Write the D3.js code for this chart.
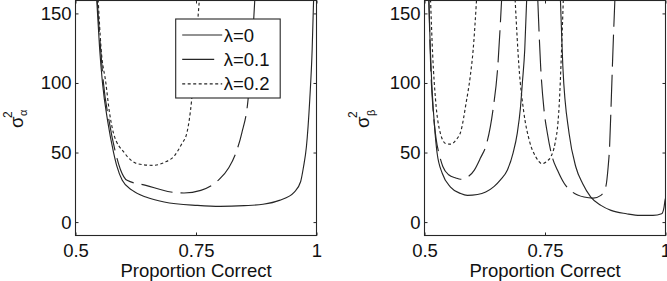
<!DOCTYPE html>
<html>
<head>
<meta charset="utf-8">
<script src="https://cdn.jsdelivr.net/npm/d3@7"></script>
<style>
  body { margin: 0; background: #fff; }
  svg { display: block; font-family: "Liberation Sans", Arial, sans-serif; }
</style>
</head>
<body>
<svg id="chart" width="667" height="281"></svg>
<script>
// tick values + legend labels
var pcTicks = [0.5, 0.75, 1];
var varTicks = [0, 50, 100, 150];
var lambdaLabels = ["λ=0", "λ=0.1", "λ=0.2"];

// left panel: sigma^2 alpha, [proportion correct, variance]
var alphaLam0 = [[0.544,160],[0.550,125],[0.556,100],[0.567,72],[0.579,50],[0.586,40],[0.597,30],
  [0.618,22.8],[0.646,18],[0.684,14.4],[0.753,12],[0.80,11.3],[0.85,11.8],[0.889,12.8],[0.923,15.6],
  [0.954,21.6],[0.967,29],[0.973,39.6],[0.979,54],[0.986,88],[0.991,124],[0.994,160]];
var alphaLam1 = [[0.545,160],[0.552,125],[0.558,100],[0.570,72],[0.583,50],[0.593,38],[0.607,30],
  [0.646,26.4],[0.698,21.6],[0.725,20.9],[0.760,22.8],[0.796,30],[0.818,39],[0.833,50],[0.845,64],
  [0.858,88],[0.866,124],[0.872,160]];
var alphaLam2 = [[0.547,160],[0.553,125],[0.563,100],[0.570,80],[0.579,63.7],[0.601,50],[0.628,42],
  [0.660,40.8],[0.685,43],[0.706,48],[0.720,56],[0.731,64],[0.741,88],[0.749,124],[0.757,160]];

// right panel: sigma^2 beta, each lambda has two branches
var betaLam0a = [[0.509,160],[0.512,125],[0.515,100],[0.522,63.7],[0.526,50],[0.537,34.9],[0.554,25.2],
  [0.575,20.5],[0.589,19.2],[0.610,19.8],[0.627,21.6],[0.644,25.5],[0.658,30.5],[0.672,37.5],
  [0.684,50],[0.6925,64],[0.699,82],[0.703,100],[0.708,124],[0.712,160]];
var betaLam0b = [[0.782,160],[0.784,140],[0.787,112],[0.800,63.7],[0.814,39.6],[0.828,27.7],[0.845,18],
  [0.866,12],[0.887,8.4],[0.919,6],[0.947,4.8],[0.974,4.8],[0.992,6],[0.997,10.8],[0.999,15.6],[1.0,17]];
var betaLam1a = [[0.509,160],[0.513,110],[0.518,80],[0.524,60],[0.531,48],[0.538,40],[0.550,34],
  [0.565,31.7],[0.575,30.8],[0.590,32.5],[0.603,37.2],[0.616,46],[0.629,56.5],[0.642,80.5],
  [0.652,111.7],[0.660,160]];
var betaLam1b = [[0.735,160],[0.741,111.7],[0.748,80.5],[0.755,63.7],[0.765,46.8],[0.776,37.2],
  [0.790,27.7],[0.807,21.6],[0.831,18],[0.850,17.2],[0.866,19.2],[0.876,25.2],[0.881,39.6],
  [0.884,54],[0.8875,87.7],[0.891,123.7],[0.895,160]];
var betaLam2a = [[0.5125,160],[0.517,120],[0.523,87.7],[0.533,63.7],[0.544,56.5],[0.554,56],
  [0.565,58.9],[0.576,66],[0.586,85],[0.595,105],[0.601,124],[0.608,160]];
var betaLam2b = [[0.688,160],[0.696,111.7],[0.706,79],[0.718,58],[0.731,46.8],[0.744,42],[0.755,44],
  [0.762,46.8],[0.771,57],[0.777,72],[0.780,87.7],[0.783,111.7],[0.788,160]];

var dashes = [null, "32,8", "3,2.5"];
var ink = "#262626";

var panels = [
  { left: 75.5, sub: "α", subShift: 4, labX: 23.3, curves: [[alphaLam0, 0], [alphaLam1, 1], [alphaLam2, 2]], legend: true },
  { left: 424.5, sub: "β", subShift: 6, labX: 368.5,
    curves: [[betaLam0a, 0], [betaLam0b, 0], [betaLam1a, 1], [betaLam1b, 1], [betaLam2a, 2], [betaLam2b, 2]] }
];

var W = 241, H = 235;
var svg = d3.select("#chart");

panels.forEach(function (p, i) {
  var g = svg.append("g").attr("transform", `translate(${p.left}, 0.5)`);

  var x = d3.scaleLinear().domain([0.5, 1]).range([0, W]);
  var y = d3.scaleLinear().domain([-10, 160]).range([H + 0.5, -1]);

  g.append("clipPath").attr("id", "clip" + i)
    .append("rect").attr("width", W).attr("height", H);

  var line = d3.line()
    .x((d) => x(d[0]))
    .y((d) => y(d[1]))
    .curve(d3.curveMonotoneX);

  g.append("g").attr("clip-path", `url(#clip${i})`)
    .selectAll("path")
    .data(p.curves)
    .join("path")
    .attr("d", (d) => line(d[0]))
    .attr("fill", "none")
    .attr("stroke", ink)
    .attr("stroke-width", 1.15)
    .attr("stroke-dasharray", (d) => dashes[d[1]]);

  // axes, ticks pointing inwards like the original
  var fmt = (d) => d === 0.5 ? "0.5" : d === 0.75 ? "0.75" : "1";
  g.append("g").attr("transform", `translate(0, ${H})`)
    .call(d3.axisBottom(x).tickValues(pcTicks).tickSize(-3).tickSizeOuter(0).tickPadding(8).tickFormat(fmt));
  g.append("g")
    .call(d3.axisLeft(y).tickValues(varTicks).tickSize(-3).tickSizeOuter(0).tickPadding(4));
  g.append("g")
    .call(d3.axisTop(x).tickValues(pcTicks).tickSize(-3).tickSizeOuter(0).tickFormat(""));
  g.append("g").attr("transform", `translate(${W}, 0)`)
    .call(d3.axisRight(y).tickValues(varTicks).tickSize(-3).tickSizeOuter(0).tickFormat(""));

  g.selectAll(".domain").remove();
  g.selectAll(".tick line").attr("stroke", ink);
  g.selectAll(".tick text")
    .attr("font-size", 18.5)
    .attr("font-family", "'Liberation Sans', Arial, sans-serif")
    .attr("fill", "#111");

  g.append("rect")
    .attr("width", W).attr("height", H)
    .attr("fill", "none").attr("stroke", ink).attr("stroke-width", 1.1);

  g.append("text")
    .attr("x", W / 2).attr("y", 276)
    .attr("text-anchor", "middle")
    .attr("font-size", 18.5)
    .attr("fill", "#111")
    .text("Proportion Correct");

  // y label: sigma with superscript 2 and subscript alpha/beta
  var lab = svg.append("text")
    .attr("transform", `translate(${p.labX}, 128) rotate(-90)`)
    .attr("fill", "#111");
  lab.append("tspan").attr("x", 0).attr("y", 0).attr("font-size", 18.5).text("σ");
  lab.append("tspan").attr("x", 10).attr("y", -11.5).attr("font-size", 12).text("2");
  lab.append("tspan").attr("x", 12).attr("y", p.subShift).attr("font-size", 11).text(p.sub);

  if (p.legend) {
    var lg = g.append("g").attr("transform", `translate(${175.7 - p.left}, 18.5)`);
    lg.append("rect")
      .attr("width", 104.5).attr("height", 79)
      .attr("fill", "#fff").attr("stroke", ink).attr("stroke-width", 1.1);
    var items = lg.selectAll("g.item")
      .data(lambdaLabels)
      .join("g")
      .attr("class", "item")
      .attr("transform", (d, k) => `translate(0, ${16 + k * 24.4})`);
    items.append("line")
      .attr("x1", 6.5).attr("x2", 46.5)
      .attr("stroke", ink)
      .attr("stroke-width", 1.15)
      .attr("stroke-dasharray", (d, k) => dashes[k]);
    items.append("text")
      .attr("x", 48).attr("y", 6.6)
      .attr("font-size", 18.5)
      .attr("fill", "#111")
      .text((d) => d);
  }
});
</script>
</body>
</html>
